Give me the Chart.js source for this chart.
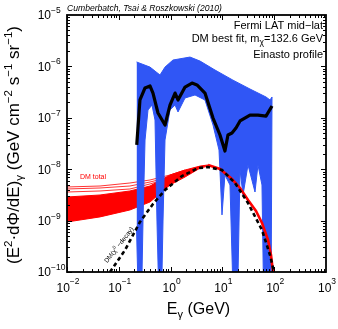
<!DOCTYPE html>
<html>
<head>
<meta charset="utf-8">
<script src="https://cdn.jsdelivr.net/npm/chart.js@4.4.0/dist/chart.umd.min.js"></script>
<style>
  body { margin: 0; background: #fff; }
  canvas { display: block; }
</style>
</head>
<body>
<canvas id="grafica" width="338" height="329"></canvas>
<script>
// energias en GeV, flujos E^2 dPhi/dE en GeV cm^-2 s^-1 sr^-1

// linea negra gruesa (mejor ajuste)
const blackE = [0.222, 0.256, 0.321, 0.400, 0.457, 0.571, 0.780, 0.973, 1.22, 1.39, 1.90, 2.59, 3.23, 4.61, 6.59, 8.99, 11.2, 12.8, 15.3, 18.3, 21.9, 34.1, 48.6, 69.5, 90.7];
const blackV = [2.96e-8, 2.22e-7, 3.80e-7, 4.16e-7, 3.03e-7, 1.24e-7, 7.24e-8, 1.77e-7, 3.03e-7, 2.22e-7, 3.97e-7, 4.75e-7, 4.35e-7, 3.03e-7, 9.9e-8, 4.63e-8, 2.26e-8, 4.63e-8, 5.06e-8, 6.34e-8, 8.67e-8, 1.13e-7, 1.13e-7, 1.08e-7, 1.70e-7];

// DM(chi0 -decay), negra discontinua
const dashE = [0.0676, 0.132, 0.256, 0.457, 0.780, 1.66, 3.38, 5.27, 9.82, 17.5, 31.2, 58.1, 83.0, 99.1];
const dashV = [1e-10, 2.68e-10, 9.4e-10, 2.10e-9, 3.94e-9, 7.38e-9, 1.05e-8, 1.10e-8, 9.64e-9, 5.39e-9, 2.20e-9, 6.56e-10, 2.14e-10, 1e-10];

// banda azul: borde de arriba y borde de abajo
const blueUpE = [0.220, 0.400, 0.624, 0.780, 1.11, 2.37, 3.70, 7.20, 16.0, 34.1, 69.5, 83.0, 90.7];
const blueUpV = [1.22e-6, 9.7e-7, 6.8e-7, 9.7e-7, 1.33e-6, 1.52e-6, 1.27e-6, 8.5e-7, 5.4e-7, 3.63e-7, 2.54e-7, 2.22e-7, 2.54e-7];
const blueLowE = [0.220, 0.245, 0.269, 0.293, 0.321, 0.366, 0.437, 0.500, 0.546, 0.611, 0.653, 0.713, 0.780, 0.973, 1.22, 1.39, 1.90, 2.96, 4.61, 6.59, 8.60, 9.82, 11.2, 14.0, 16.7, 19.2, 21.9, 25.0, 31.2, 42.6, 48.6, 58.1, 63.6, 86.7, 90.7];
const blueLowV = [6.56e-10, 1e-11, 1e-11, 9.4e-10, 3.70e-8, 1.42e-7, 1.77e-7, 9.06e-8, 9.4e-10, 1e-11, 1e-11, 9.4e-10, 3.70e-8, 1.42e-7, 1.77e-7, 1.30e-7, 2.43e-7, 2.78e-7, 2.22e-7, 7.24e-8, 2.36e-8, 1.29e-9, 7.71e-9, 4.93e-9, 1e-11, 1e-11, 9.64e-9, 3.15e-9, 1.21e-8, 3.60e-9, 1.21e-8, 4.93e-9, 1e-11, 1e-11, 2.54e-7];

// DM total, banda roja y linea roja
const redBandE = [0.01, 0.0434, 0.164, 0.400, 0.973, 1.90, 3.70, 5.27];
const redTopV = [2.88e-9, 3.15e-9, 3.77e-9, 4.71e-9, 7.71e-9, 9.64e-9, 1.15e-8, 1.21e-8];
const redLowV = [9.4e-10, 1.18e-9, 1.61e-9, 2.30e-9, 4.93e-9, 7.05e-9, 1.05e-8, 1.15e-8];
const redStrayE = [0.01, 0.0434, 0.164, 0.400, 0.973, 1.90];
const redStray1 = [4.51e-9, 4.71e-9, 5.39e-9, 6.16e-9, 7.71e-9, 9.64e-9];
const redStray2 = [4.12e-9, 4.31e-9, 4.71e-9, 5.63e-9, 7.05e-9, 9.2e-9];
const redStray3 = [3.60e-9, 3.77e-9, 4.12e-9, 5.16e-9, 6.74e-9, 8.8e-9];
const redMainE = [5.27, 8.99, 15.3, 21.9, 31.2, 44.5, 58.1, 75.9, 86.7, 94.9];
const redMainV = [1.21e-8, 1.01e-8, 6.44e-9, 4.31e-9, 2.52e-9, 1.54e-9, 8.98e-10, 4.2e-10, 2.14e-10, 1e-10];

// etiquetas de los ejes
const xTicks = [0.01, 0.1, 1, 10, 100, 1000];
const xTickExp = ['\u22122', '\u22121', '0', '1', '2', '3'];
const yTicks = [1e-10, 1e-9, 1e-8, 1e-7, 1e-6, 1e-5];
const yTickExp = ['\u221210', '\u22129', '\u22128', '\u22127', '\u22126', '\u22125'];

const FAM = '"Liberation Sans", Arial, Helvetica, sans-serif';
const BLUE = 'rgb(48,86,245)';
const RED = '#ff0000';

const grafica = document.getElementById('grafica').getContext('2d');
const pts = (xs, ys) => xs.map((x, i) => ({ x: x, y: ys[i] }));

// dibuja texto con super/subindices: partes = [texto, tamano, subida]
function rich(ctx, parts, x, y, align) {
  let w = 0;
  for (const p of parts) {
    ctx.font = p[1] + 'px ' + FAM;
    w += ctx.measureText(p[0]).width;
  }
  let cx = x;
  if (align === 'right') cx = x - w;
  if (align === 'center') cx = x - w / 2;
  ctx.textAlign = 'left';
  for (const p of parts) {
    ctx.font = p[1] + 'px ' + FAM;
    ctx.fillText(p[0], cx, y - p[2]);
    cx += ctx.measureText(p[0]).width;
  }
}

const marco = {
  id: 'marco',
  afterDraw(chart) {
    const ctx = chart.ctx;
    const a = chart.chartArea;
    const sx = chart.scales.x;
    const sy = chart.scales.y;
    ctx.save();
    ctx.fillStyle = '#000';
    ctx.strokeStyle = '#000';

    // marcas de los ejes, hacia dentro, en los cuatro lados
    ctx.lineWidth = 1;
    ctx.beginPath();
    for (let d = -2; d < 3; d++) {
      for (let m = 1; m < 10; m++) {
        const px = Math.round(sx.getPixelForValue(m * Math.pow(10, d))) + 0.5;
        const len = m === 1 ? 5 : 3;
        ctx.moveTo(px, a.bottom); ctx.lineTo(px, a.bottom - len);
        ctx.moveTo(px, a.top); ctx.lineTo(px, a.top + len);
      }
    }
    for (let d = -10; d < -5; d++) {
      for (let m = 1; m < 10; m++) {
        const py = Math.round(sy.getPixelForValue(m * Math.pow(10, d))) + 0.5;
        const len = m === 1 ? 5 : 3;
        ctx.moveTo(a.left, py); ctx.lineTo(a.left + len, py);
        ctx.moveTo(a.right, py); ctx.lineTo(a.right - len, py);
      }
    }
    ctx.stroke();

    ctx.lineWidth = 1.8;
    ctx.strokeRect(a.left, a.top, a.right - a.left, a.bottom - a.top);

    // numeros de los ejes
    ctx.textBaseline = 'alphabetic';
    xTicks.forEach((v, i) => {
      const px = sx.getPixelForValue(v);
      rich(ctx, [['10', 12, 0], [xTickExp[i], 8.5, 8]], px + 1, a.bottom + 19.5, 'center');
    });
    yTicks.forEach((v, i) => {
      const py = sy.getPixelForValue(v);
      ctx.font = '12px ' + FAM;
      ctx.textAlign = 'right';
      ctx.fillText('10', 51, py + 4.3);
      rich(ctx, [[yTickExp[i], 8.5, 0]], 51, py - 2, 'left');
    });

    // titulo eje x
    rich(ctx, [['E', 16, 0], ['\u03b3', 11, -4], [' (GeV)', 16, 0]], (a.left + a.right) / 2 + 2, 314, 'center');

    // titulo eje y (girado)
    ctx.save();
    ctx.translate(19, 145);
    ctx.rotate(-Math.PI / 2);
    rich(ctx, [
      ['(E', 17, 0], ['2', 11.5, 7.5], ['\u00b7d\u03a6/dE)', 17, 0], ['\u03b3', 11.5, -4],
      [' (GeV cm', 17, 0], ['\u22122', 11.5, 7.5], [' s', 17, 0], ['\u22121', 11.5, 7.5],
      [' sr', 17, 0], ['\u22121', 11.5, 7.5], [')', 17, 0]
    ], 0, 0, 'center');
    ctx.restore();

    // cita arriba
    ctx.font = 'italic 8.6px ' + FAM;
    ctx.textAlign = 'left';
    ctx.fillText('Cumberbatch, Tsai & Roszkowski (2010)', a.left, 10.5);

    // textos de la esquina
    rich(ctx, [['Fermi LAT mid\u2212lat', 11, 0]], 323, 28.5, 'right');
    rich(ctx, [['DM best fit, m', 11, 0], ['\u03c7', 8.5, -3.5], ['=132.6 GeV', 11, 0]], 323, 41.5, 'right');
    rich(ctx, [['Einasto profile', 11, 0]], 323, 58, 'right');

    // DM total
    ctx.fillStyle = RED;
    ctx.font = '7px ' + FAM;
    ctx.textAlign = 'left';
    ctx.fillText('DM total', 80, 179);

    // etiqueta de la curva discontinua
    ctx.fillStyle = '#000';
    ctx.save();
    ctx.translate(119, 245);
    ctx.rotate(-52 * Math.PI / 180);
    rich(ctx, [['DM(\u03c7', 6.5, 0], ['0', 4.8, 3], [' \u2212decay)', 6.5, 0]], 0, 2, 'center');
    ctx.restore();

    ctx.restore();
  }
};

const datasets = [
  { data: pts(blackE, blackV), borderColor: '#000', borderWidth: 3.2, borderJoinStyle: 'round', fill: false },
  { data: pts(dashE, dashV), borderColor: '#000', borderWidth: 2.6, borderDash: [4, 3], fill: false },
  { data: pts(redMainE, redMainV), borderColor: RED, borderWidth: 2.6, fill: false },
  { data: pts(blueUpE, blueUpV), borderColor: BLUE, borderWidth: 1, backgroundColor: BLUE, fill: 4 },
  { data: pts(blueLowE, blueLowV), borderColor: BLUE, borderWidth: 1, fill: false },
  { data: pts(redStrayE, redStray1), borderColor: RED, borderWidth: 0.8, fill: false },
  { data: pts(redStrayE, redStray2), borderColor: RED, borderWidth: 0.8, fill: false },
  { data: pts(redStrayE, redStray3), borderColor: RED, borderWidth: 0.8, fill: false },
  { data: pts(redBandE, redTopV), borderColor: RED, borderWidth: 1, fill: false },
  { data: pts(redBandE, redLowV), borderColor: RED, borderWidth: 1, backgroundColor: RED, fill: 8 }
];

const myChart = new Chart(grafica, {
  type: 'line',
  data: { datasets: datasets },
  options: {
    responsive: false,
    animation: false,
    devicePixelRatio: 1,
    layout: { padding: { left: 67, right: 12, top: 15, bottom: 57 } },
    elements: { point: { radius: 0 }, line: { tension: 0 } },
    plugins: { legend: { display: false }, tooltip: { enabled: false } },
    scales: {
      x: { type: 'logarithmic', min: 0.01, max: 1000, display: false },
      y: { type: 'logarithmic', min: 1e-10, max: 1e-5, display: false }
    }
  },
  plugins: [marco]
});
</script>
</body>
</html>
